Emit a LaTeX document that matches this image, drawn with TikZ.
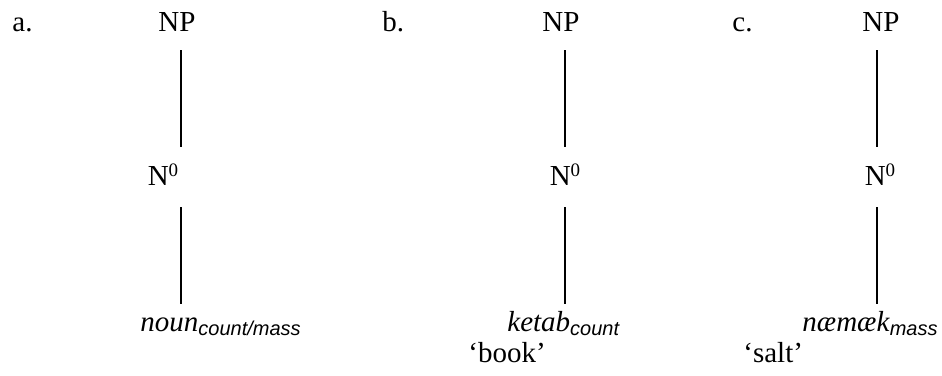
\documentclass[tikz,border=0pt]{standalone}
\usepackage{fontspec}
\setmainfont{Liberation Serif}
\setsansfont{Liberation Sans}
\usepackage{tikz}
\usetikzlibrary{positioning}
\tikzset{cat/.style={inner sep=0pt, anchor=base, font=\fontsize{14.5}{16}\selectfont}}
\tikzset{leaf/.style={cat, anchor=base west}}
\tikzset{upper/.style={line width=1pt, shorten <=9pt, shorten >=19pt}}
\tikzset{lower/.style={line width=1pt, shorten <=11pt, shorten >=13.5pt}}
\newcommand{\feat}[1]{\raisebox{-2pt}{\fontsize{10}{12}\selectfont\sffamily\itshape #1}}
\newcommand{\lvl}[1]{\raisebox{4.5pt}{\fontsize{9.5}{11}\selectfont #1}}

\begin{document}
\begin{tikzpicture}[x=0.5pt,y=-0.5pt]
   \useasboundingbox (0,0) rectangle (942,375);

   % tree a
   \node[leaf] (labela) at (12,32) {a.};
   \node[cat] (NPa) at (177,32) {NP};
   \node[cat] (N0a) at (163,185) {N\lvl{0}};
   \node[leaf] (leafa) at (140,331) {\textit{noun}\feat{count/mass}};

   % tree b
   \node[leaf] (labelb) at (382,32) {b.};
   \node[cat] (NPb) at (561,32) {NP};
   \node[cat] (N0b) at (565,185) {N\lvl{0}};
   \node[leaf] (leafb) at (507,331) {\textit{ketab}\feat{count}};
   \node[leaf] (glossb) at (468,362) {`book'};

   % tree c
   \node[leaf] (labelc) at (732,32) {c.};
   \node[cat] (NPc) at (881,32) {NP};
   \node[cat] (N0c) at (880,185) {N\lvl{0}};
   \node[leaf] (leafc) at (802,331) {\textit{næmæk}\feat{mass}};
   \node[leaf] (glossc) at (743,362) {`salt'};

   \foreach \t/\x in {a/181,b/565,c/877} {
      \draw[upper] (\x,0 |- NP\t.base) -- (\x,0 |- N0\t.base);
      \draw[lower] (\x,0 |- N0\t.base) -- (\x,0 |- leaf\t.base);
   }
\end{tikzpicture}
\end{document}
